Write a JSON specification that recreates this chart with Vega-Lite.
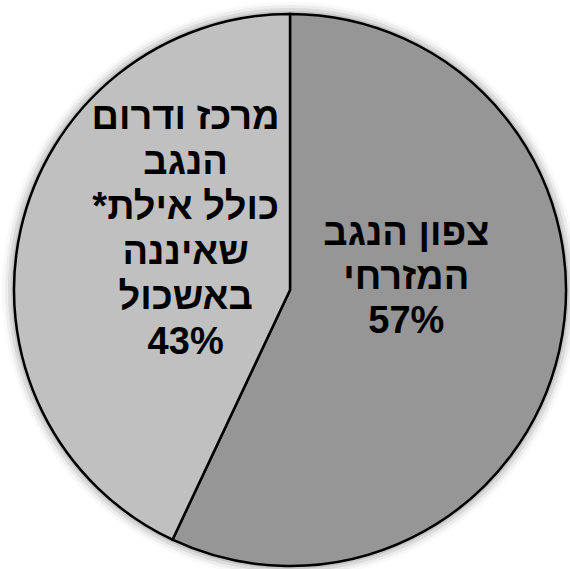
{
  "$schema": "https://vega.github.io/schema/vega-lite/v6.json",
  "width": 560,
  "height": 558,
  "autosize": {"type": "none"},
  "padding": {"left": 10, "top": 11, "right": 0, "bottom": 0},
  "background": "white",
  "view": {"stroke": null},
  "config": {"text": {"lineBreak": "\n"}},
  "data": {
    "values": [
      {"region": "צפון הנגב המזרחי", "value": 57, "label": "צפון הנגב\nהמזרחי\n57%"},
      {"region": "מרכז ודרום הנגב כולל אילת שאיננה באשכול", "value": 43, "label": "מרכז ודרום\nהנגב\n\u202A*כולל אילת\u202C\nשאיננה\nבאשכול\n43%"}
    ]
  },
  "layer": [
    {
      "mark": {"type": "arc", "outerRadius": 288, "theta": 0, "theta2": 6.2832, "fill": "black", "opacity": 0.012},
      "encoding": {}
    },
    {
      "mark": {"type": "arc", "outerRadius": 285, "theta": 0, "theta2": 6.2832, "fill": "black", "opacity": 0.022},
      "encoding": {}
    },
    {
      "mark": {"type": "arc", "outerRadius": 282, "theta": 0, "theta2": 6.2832, "fill": "black", "opacity": 0.035},
      "encoding": {}
    },
    {
      "mark": {"type": "arc", "outerRadius": 279, "theta": 0, "theta2": 6.2832, "fill": "black", "opacity": 0.05},
      "encoding": {}
    },
    {
      "mark": {"type": "arc", "outerRadius": 276, "stroke": "black", "strokeWidth": 2.5},
      "encoding": {
        "theta": {"field": "value", "type": "quantitative", "stack": true},
        "order": {"field": "value", "type": "quantitative", "sort": "descending"},
        "color": {
          "field": "region",
          "type": "nominal",
          "scale": {
            "domain": ["צפון הנגב המזרחי", "מרכז ודרום הנגב כולל אילת שאיננה באשכול"],
            "range": ["#969696", "#c0c0c0"]
          },
          "legend": null
        }
      }
    },
    {
      "mark": {
        "type": "text",
        "radius": 110,
        "dx": 9,
        "dy": -80,
        "font": "Arial, Liberation Sans, sans-serif",
        "fontWeight": 700,
        "fontSize": 38,
        "lineHeight": 44,
        "align": "center",
        "baseline": "middle",
        "color": "black"
      },
      "encoding": {
        "theta": {"field": "value", "type": "quantitative", "stack": true},
        "order": {"field": "value", "type": "quantitative", "sort": "descending"},
        "text": {"condition": {"test": "datum.value == 57", "field": "label", "type": "nominal"}, "value": ""}
      }
    },
    {
      "mark": {
        "type": "text",
        "radius": 110,
        "dx": 3,
        "dy": -148,
        "font": "Arial, Liberation Sans, sans-serif",
        "fontWeight": 700,
        "fontSize": 38,
        "lineHeight": 45,
        "align": "center",
        "baseline": "middle",
        "color": "black"
      },
      "encoding": {
        "theta": {"field": "value", "type": "quantitative", "stack": true},
        "order": {"field": "value", "type": "quantitative", "sort": "descending"},
        "text": {"condition": {"test": "datum.value == 43", "field": "label", "type": "nominal"}, "value": ""}
      }
    }
  ]
}
